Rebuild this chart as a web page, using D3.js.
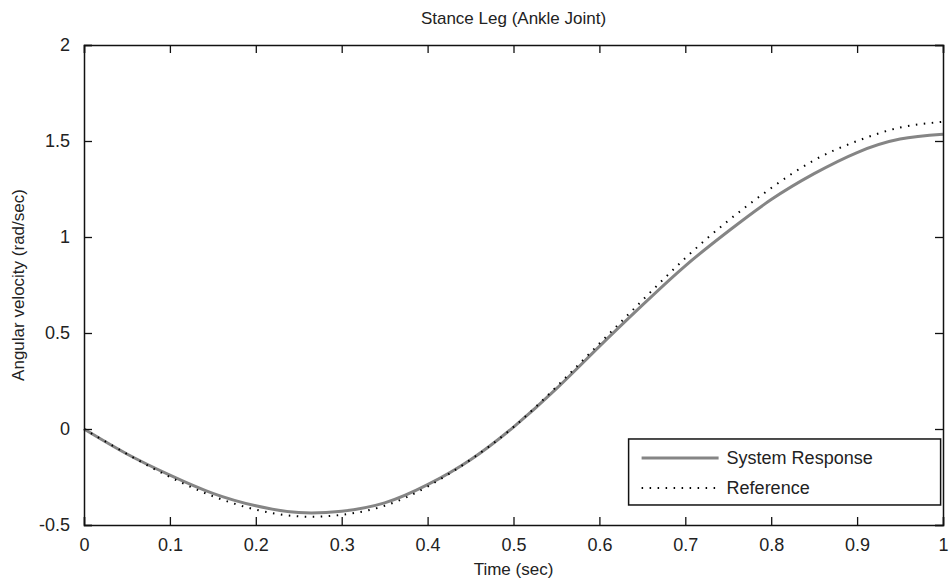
<!DOCTYPE html>
<html>
<head>
<meta charset="utf-8">
<script src="https://cdn.jsdelivr.net/npm/d3@7"></script>
<style>
  body { margin: 0; background: #fff; }
  svg text { font-family: "Liberation Sans", Arial, sans-serif; fill: #222; }
</style>
</head>
<body>
<svg width="949" height="581"></svg>
<script>
const svg = d3.select("svg");
const margin = { top: 45, right: 6, bottom: 56, left: 84 };
const width = +svg.attr("width") - margin.left - margin.right;
const height = +svg.attr("height") - margin.top - margin.bottom;

// sample times (sec)
const time = [0, 0.05, 0.1, 0.15, 0.2, 0.25, 0.3, 0.35, 0.4, 0.45, 0.5,
    0.55, 0.6, 0.65, 0.7, 0.75, 0.8, 0.85, 0.9, 0.95, 1.0];
const systemResponse = [0, -0.13, -0.24, -0.335, -0.40, -0.435, -0.428, -0.385, -0.29, -0.16, 0.01,
    0.21, 0.43, 0.645, 0.85, 1.03, 1.195, 1.33, 1.44, 1.51, 1.535];
const reference = [0, -0.13, -0.25, -0.35, -0.42, -0.455, -0.447, -0.40, -0.30, -0.16, 0.01,
    0.22, 0.445, 0.67, 0.89, 1.085, 1.255, 1.40, 1.50, 1.57, 1.60];

const xTicks = [0, 0.1, 0.2, 0.3, 0.4, 0.5, 0.6, 0.7, 0.8, 0.9, 1];
const yTicks = [-0.5, 0, 0.5, 1, 1.5, 2];
const seriesNames = ["System Response", "Reference"];

const x = d3.scaleLinear().domain([0, 1]).range([0, width]);
const y = d3.scaleLinear().domain([-0.5, 2]).range([height, 0]);

const g = svg.append("g").attr("transform", `translate(${margin.left},${margin.top})`);

// curves
const line = d3.line()
    .x((d, i) => x(time[i]))
    .y(d => y(d))
    .curve(d3.curveNatural);

g.append("path")
    .datum(systemResponse)
    .attr("fill", "none")
    .attr("stroke", "#858585")
    .attr("stroke-width", 3)
    .attr("d", line);

g.append("path")
    .datum(reference)
    .attr("fill", "none")
    .attr("stroke", "#000")
    .attr("stroke-width", 2)
    .attr("stroke-dasharray", "1.5,6.5")
    .attr("d", line);

// axes, ticks pointing inward on all four sides
const fmt = d => d === 0 ? "0" : String(d);
g.append("g")
    .attr("transform", `translate(0,${height})`)
    .call(d3.axisBottom(x).tickValues(xTicks).tickSize(-8).tickPadding(13).tickFormat(fmt));
g.append("g")
    .call(d3.axisLeft(y).tickValues(yTicks).tickSize(-8).tickPadding(14).tickFormat(fmt));
g.append("g")
    .call(d3.axisTop(x).tickValues(xTicks).tickSize(-8).tickFormat(""));
g.append("g")
    .attr("transform", `translate(${width},0)`)
    .call(d3.axisRight(y).tickValues(yTicks).tickSize(-8).tickFormat(""));

g.selectAll(".domain").attr("stroke", "#111").attr("stroke-width", 1.5);
g.selectAll(".tick line").attr("stroke", "#111").attr("stroke-width", 1.3);
g.selectAll(".tick text").attr("font-size", 18).attr("fill", "#222")
    .attr("font-family", "'Liberation Sans', Arial, sans-serif");

// legend
const legend = g.append("g").attr("transform", `translate(${x(0.634)},${y(-0.052)})`);
legend.append("rect")
    .attr("width", 312).attr("height", 66)
    .attr("fill", "#fff").attr("stroke", "#111").attr("stroke-width", 1.5);
seriesNames.forEach((name, i) => {
    const ly = 19 + i * 30;
    legend.append("line")
        .attr("x1", 13).attr("x2", 90).attr("y1", ly).attr("y2", ly)
        .attr("stroke", i === 0 ? "#858585" : "#000")
        .attr("stroke-width", i === 0 ? 3 : 2)
        .attr("stroke-dasharray", i === 0 ? null : "1.5,6.5");
    legend.append("text")
        .attr("x", 98).attr("y", ly + 6)
        .attr("font-size", 18)
        .text(name);
});

// titles
svg.append("text")
    .attr("x", margin.left + width / 2).attr("y", 24)
    .attr("text-anchor", "middle").attr("font-size", 17)
    .text("Stance Leg (Ankle Joint)");
svg.append("text")
    .attr("x", margin.left + width / 2).attr("y", 575)
    .attr("text-anchor", "middle").attr("font-size", 17)
    .text("Time (sec)");
svg.append("text")
    .attr("transform", `translate(24,${margin.top + height / 2}) rotate(-90)`)
    .attr("text-anchor", "middle").attr("font-size", 17)
    .text("Angular velocity (rad/sec)");
</script>
</body>
</html>
